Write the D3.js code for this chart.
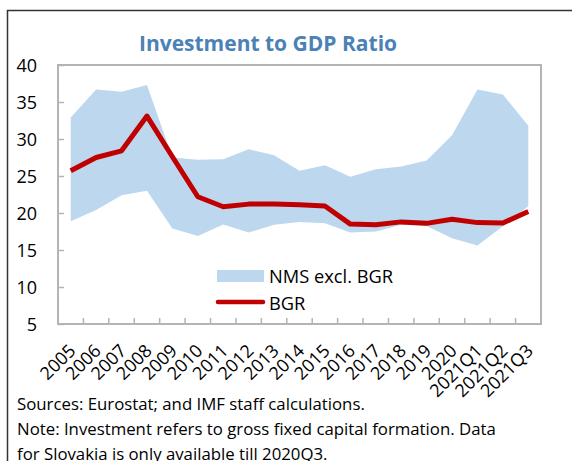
<!DOCTYPE html>
<html>
<head>
<meta charset="utf-8">
<script src="https://cdn.jsdelivr.net/npm/d3@7"></script>
<style>
  body { margin: 0; background: #fff; }
  text { font-family: "Open Sans", "Noto Sans", sans-serif; }
</style>
</head>
<body>
<script>
//Data
const categories = ["2005","2006","2007","2008","2009","2010","2011","2012","2013","2014",
                    "2015","2016","2017","2018","2019","2020","2021Q1","2021Q2","2021Q3"];
const bgr     = [25.7, 27.5, 28.4, 33.1, 27.6, 22.2, 20.85, 21.2, 21.2, 21.1,
                 20.95, 18.5, 18.4, 18.8, 18.6, 19.15, 18.7, 18.65, 20.2];
const nmsHigh = [32.9, 36.7, 36.4, 37.3, 27.5, 27.2, 27.25, 28.6, 27.8, 25.7,
                 26.45, 24.9, 25.9, 26.3, 27.1, 30.5, 36.7, 36.0, 31.8];
const nmsLow  = [18.9, 20.4, 22.4, 23.0, 17.9, 16.9, 18.45, 17.35, 18.4, 18.8,
                 18.6, 17.35, 17.5, 18.4, 18.25, 16.6, 15.6, 18.2, 20.9];
const yTicks = [5, 10, 15, 20, 25, 30, 35, 40];
const footnotes = [
  "Sources: Eurostat; and IMF staff calculations.",
  "Note: Investment refers to gross fixed capital formation. Data",
  "for Slovakia is only available till 2020Q3."
];

//Variables
const width = 572;
const height = 461;
const plot = {left: 58, right: 541, top: 65, bottom: 324};

const svg = d3.select("body")
              .append("svg")
              .attr("width", width)
              .attr("height", height);

//Outer frame
svg.append("rect")
   .attr("x", 7.5).attr("y", 10.5)
   .attr("width", 700).attr("height", 600)
   .attr("fill", "none")
   .attr("stroke", "#333")
   .attr("stroke-width", 1.5);

//Scales
const x = d3.scaleBand()
            .domain(categories)
            .range([plot.left, plot.right]);
const cx = d => x(d) + x.bandwidth() / 2;

const y = d3.scaleLinear()
            .domain([5, 40])
            .range([plot.bottom, plot.top]);

const rows = categories.map((c, i) => ({cat: c, bgr: bgr[i], hi: nmsHigh[i], lo: nmsLow[i]}));

//Band
svg.append("path")
   .datum(rows)
   .attr("fill", "#bdd7ee")
   .attr("d", d3.area().x(d => cx(d.cat)).y0(d => y(d.lo)).y1(d => y(d.hi)));

//BGR line
svg.append("path")
   .datum(rows)
   .attr("fill", "none")
   .attr("stroke", "#c00000")
   .attr("stroke-width", 5)
   .attr("stroke-linejoin", "round")
   .attr("d", d3.line().x(d => cx(d.cat)).y(d => y(d.bgr)));

//Axes
const yAxis = svg.append("g")
   .attr("transform", `translate(${plot.left},0)`)
   .call(d3.axisRight(y).tickValues(yTicks).tickSize(6).tickFormat(""));
const xAxis = svg.append("g")
   .attr("transform", `translate(0,${plot.bottom})`)
   .call(d3.axisTop(x).tickSize(6).tickFormat(""));

[yAxis, xAxis].forEach(g => {
  g.select(".domain").remove();
  g.selectAll("line").attr("stroke", "#b4b4b4").attr("stroke-width", 1.5);
});
//band boundaries as x ticks
xAxis.selectAll(".tick").attr("transform", d => `translate(${x(d)},0)`);
xAxis.selectAll(".tick").filter((d, i) => i === 0).remove();

//Plot frame
svg.append("rect")
   .attr("x", plot.left).attr("y", plot.top)
   .attr("width", plot.right - plot.left)
   .attr("height", plot.bottom - plot.top)
   .attr("fill", "none")
   .attr("stroke", "#b4b4b4")
   .attr("stroke-width", 2);

//Tick labels
svg.selectAll(".ylab")
   .data(yTicks)
   .join("text")
   .attr("class", "ylab")
   .attr("x", 37)
   .attr("y", d => y(d) + 6.5)
   .attr("text-anchor", "end")
   .style("font-size", "18px")
   .text(d => d);

svg.selectAll(".xlab")
   .data(categories)
   .join("text")
   .attr("class", "xlab")
   .attr("text-anchor", "end")
   .attr("transform", d => `translate(${cx(d) + 6},352) rotate(-45)`)
   .style("font-size", "18px")
   .text(d => d);

//Title
svg.append("text")
   .attr("x", 268)
   .attr("y", 51)
   .attr("text-anchor", "middle")
   .style("font-size", "21px")
   .style("font-weight", "bold")
   .attr("fill", "#4a82b6")
   .text("Investment to GDP Ratio");

//Legend
svg.append("rect")
   .attr("x", 217).attr("y", 270)
   .attr("width", 47).attr("height", 12)
   .attr("fill", "#bdd7ee");
svg.append("text")
   .attr("x", 269).attr("y", 283)
   .style("font-size", "18.3px")
   .text("NMS excl. BGR");
svg.append("line")
   .attr("x1", 218).attr("x2", 263)
   .attr("y1", 302).attr("y2", 302)
   .attr("stroke", "#c00000")
   .attr("stroke-width", 4.5)
   .attr("stroke-linecap", "round");
svg.append("text")
   .attr("x", 269).attr("y", 310)
   .style("font-size", "18.3px")
   .text("BGR");

//Footnotes
svg.selectAll(".note")
   .data(footnotes)
   .join("text")
   .attr("class", "note")
   .attr("x", 17)
   .attr("y", (d, i) => 410 + i * 25)
   .style("font-size", "16.8px")
   .text(d => d);
</script>
</body>
</html>
